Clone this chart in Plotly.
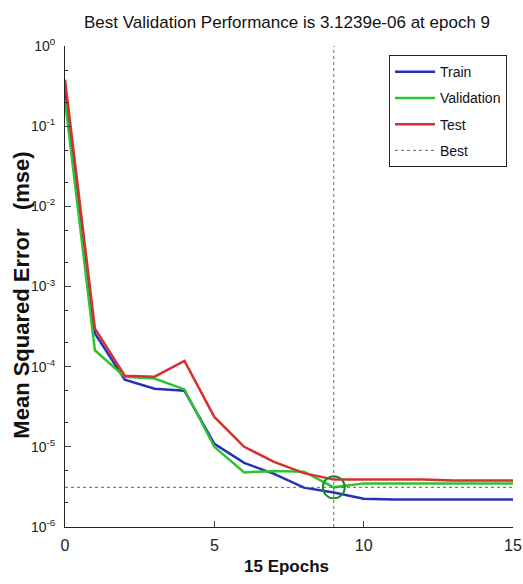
import plotly.graph_objects as go

epochs = list(range(16))
train_mse = [0.30, 2.6e-4, 6.9e-5, 5.3e-5, 5.0e-5, 1.09e-5, 6.3e-6, 4.6e-6, 3.1e-6, 2.7e-6,
             2.25e-6, 2.2e-6, 2.2e-6, 2.2e-6, 2.2e-6, 2.2e-6]
val_mse = [0.21, 1.6e-4, 7.5e-5, 7.1e-5, 5.2e-5, 1.0e-5, 4.8e-6, 5.0e-6, 4.9e-6, 3.1239e-6,
           3.5e-6, 3.5e-6, 3.5e-6, 3.5e-6, 3.5e-6, 3.5e-6]
test_mse = [0.38, 3.0e-4, 7.7e-5, 7.5e-5, 1.18e-4, 2.36e-5, 1.0e-5, 6.5e-6, 4.7e-6, 3.9e-6,
            3.9e-6, 3.9e-6, 3.9e-6, 3.8e-6, 3.8e-6, 3.8e-6]
best_epoch = 9
best_perf = 3.1239e-6
y_min, y_max = 1e-6, 1e0
x_ticks = [0, 5, 10, 15]
y_tickvals = [1e0, 1e-1, 1e-2, 1e-3, 1e-4, 1e-5, 1e-6]
y_ticktext = ["10<sup>0</sup>", "10<sup>-1</sup>", "10<sup>-2</sup>", "10<sup>-3</sup>",
              "10<sup>-4</sup>", "10<sup>-5</sup>", "10<sup>-6</sup>"]

FONT = "Liberation Sans, Arial, sans-serif"

fig = go.Figure()
fig.add_trace(go.Scatter(x=epochs, y=train_mse, mode="lines", name="Train", legendgroup="a",
                         line=dict(color="#2233b8", width=2.5)))
fig.add_trace(go.Scatter(x=epochs, y=val_mse, mode="lines", name="Validation", legendgroup="b",
                         line=dict(color="#2ec42e", width=2.5)))
fig.add_trace(go.Scatter(x=epochs, y=test_mse, mode="lines", name="Test", legendgroup="c",
                         line=dict(color="#d83030", width=2.5)))
fig.add_trace(go.Scatter(x=[epochs[0], epochs[-1], None, best_epoch, best_epoch],
                         y=[best_perf, best_perf, None, y_min, y_max],
                         mode="lines", name="Best", legendgroup="d",
                         line=dict(color="#507050", width=1, dash="dot")))
fig.add_trace(go.Scatter(x=[best_epoch], y=[best_perf], mode="markers", showlegend=False,
                         marker=dict(symbol="circle-open", size=22, color="#1f8a2a",
                                     line=dict(color="#1f8a2a", width=2))))

fig.update_layout(
    width=523, height=584,
    margin=dict(l=65, r=10, t=46, b=57, autoexpand=False),
    paper_bgcolor="white", plot_bgcolor="white",
    title=dict(text="Best Validation Performance is 3.1239e-06 at epoch 9",
               x=0.5488, xanchor="center", y=0.963, yanchor="middle",
               font=dict(family=FONT, size=17, color="#111")),
    legend=dict(x=0.9866, y=0.981, xanchor="right", yanchor="top",
                bordercolor="#222", borderwidth=1, bgcolor="white",
                font=dict(family=FONT, size=14, color="#111"),
                itemwidth=40, tracegroupgap=5, traceorder="grouped"),
    font=dict(family=FONT, color="#111"),
)
fig.update_xaxes(range=[0, 15], tickvals=x_ticks, ticks="inside", ticklen=6,
                 showline=True, linecolor="#222", linewidth=1, mirror=False,
                 showgrid=False, zeroline=False, ticklabelstandoff=4, automargin=False,
                 tickfont=dict(family=FONT, size=16, color="#222"))
fig.update_yaxes(type="log", range=[-6, 0], tickvals=y_tickvals, ticktext=y_ticktext,
                 ticks="inside", ticklen=6,
                 minor=dict(ticks="inside", ticklen=3, tickcolor="#222", showgrid=False),
                 showline=True, linecolor="#222", linewidth=1, mirror=False,
                 showgrid=False, zeroline=False, ticklabelstandoff=6, automargin=False,
                 tickfont=dict(family=FONT, size=14, color="#222"))
fig.add_annotation(text="<b>Mean Squared Error   (mse)</b>", xref="paper", yref="paper",
                   x=-0.096, y=0.483, xanchor="center", yanchor="middle", textangle=-90,
                   showarrow=False, font=dict(family=FONT, size=22, color="#111"))
fig.add_annotation(text="<b>15 Epochs</b>", xref="paper", yref="paper",
                   x=0.4955, y=-0.083, xanchor="center", yanchor="middle",
                   showarrow=False, font=dict(family=FONT, size=17, color="#111"))

fig.write_html("out.html", config={"displayModeBar": False},
               post_script="document.body.style.margin='0';document.body.style.overflow='hidden';")
